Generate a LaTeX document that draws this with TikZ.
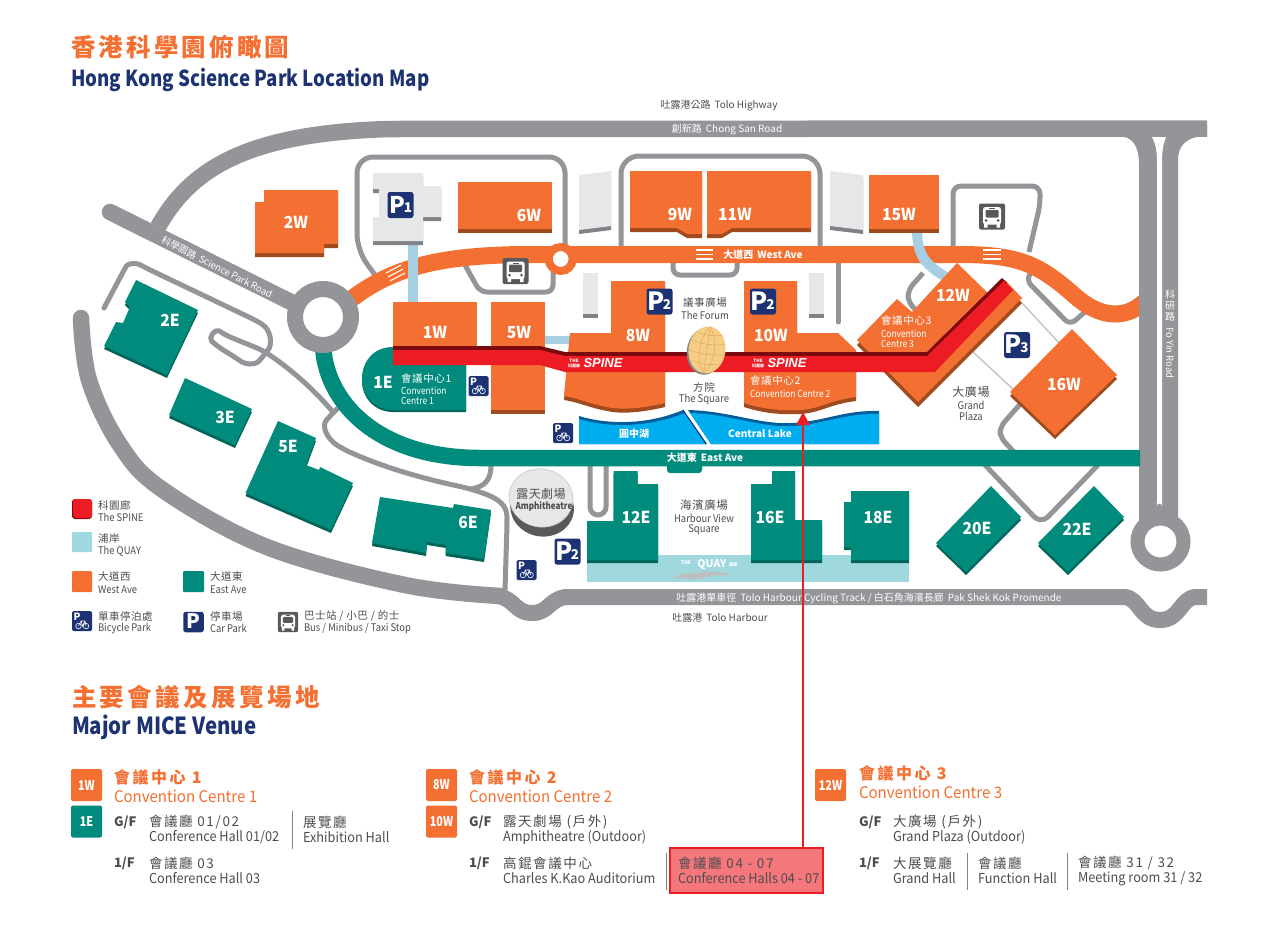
\documentclass[tikz,border=0pt]{standalone}
\usepackage{fontspec}
\setmainfont{Noto Sans CJK TC}
\newfontfamily\spf{Liberation Sans}
\usetikzlibrary{arrows.meta}
\definecolor{rd}{HTML}{949599}
\definecolor{org}{HTML}{F37032}
\definecolor{odk}{HTML}{A04A1E}
\definecolor{tl}{HTML}{008B7C}
\definecolor{tdk}{HTML}{006459}
\definecolor{navy}{HTML}{1D3272}
\definecolor{spn}{HTML}{ED1C24}
\definecolor{spd}{HTML}{7A0A0E}
\definecolor{lk}{HTML}{00AEEF}
\definecolor{lkd}{HTML}{005E9C}
\definecolor{qy}{HTML}{9FD9DD}
\definecolor{lnk}{HTML}{A6CFE3}
\definecolor{gb}{HTML}{E6E7E8}
\definecolor{gbd}{HTML}{808285}
\definecolor{ink}{HTML}{4D4D4F}
\definecolor{bus}{HTML}{58595B}
\definecolor{sq}{HTML}{F6CD85}
\definecolor{sqd}{HTML}{D9A55A}
\newcommand\fz[1]{\fontsize{#1}{#1}\selectfont}
\newcommand\st[1]{\addfontfeature{FakeStretch=#1}}
\newcommand\lab[4][]{\node[txt,#1] (#2) at (#3) {#4};}
\newcommand\blg[3]{\fill[#2,yshift=-#3pt] #1; \fill[org] #1;}
\newcommand\bw[1]{\fill[odk,yshift=-4pt] #1; \fill[org] #1;}
\newcommand\be[1]{\fill[tdk,yshift=-3pt] #1; \fill[tl] #1;}
\newcommand\bg[1]{\fill[gbd,yshift=-4pt] #1; \fill[gb] #1;}
\newcommand\picon[6]{\begin{scope}[shift={(#2)}]
 \fill[navy,rounded corners=2.5pt] (-#3/2,-#3/2) rectangle (#3/2,#3/2);
 \node[txt,text=white,font=\bfseries\fz{#4}] (#1) at (#6,-0.5) {P};
 \node[txt,text=white,font=\bfseries\fz{13.5}] (#1s) at (7.5,3) {#5};
\end{scope}}
\newcommand\bike[2]{\begin{scope}[shift={(#2)}]
 \fill[navy,rounded corners=1.5pt] (-10,-10) rectangle (10,10);
 \node[txt,text=white,font=\bfseries\fz{10}] (#1) at (-5,-4.5) {P};
 \draw[white,line width=.6pt] (-3.5,5) circle (2.8) (4,5) circle (2.8) (-3.5,5) -- (-1,0) -- (3,0) -- (4,5) (-1,0) -- (0.5,5) -- (3,0);
\end{scope}}
\newcommand\busi[2]{\begin{scope}[shift={(#1)},scale=#2]
 \fill[bus,rounded corners=2pt] (-13,-13) rectangle (13,13);
 \fill[white,rounded corners=2.5pt] (-9,-9.5) rectangle (9,8);
 \fill[white] (-8,7) rectangle (-4.5,11) (4.5,7) rectangle (8,11);
 \fill[bus,rounded corners=1pt] (-6.5,-6.5) rectangle (6.5,1);
 \fill[bus] (-6,4) circle (1.5) (6,4) circle (1.5);
 \fill[bus] (-3,-8.5) rectangle (3,-7.5);
\end{scope}}
\tikzset{
 txt/.style={inner sep=0pt,outer sep=0pt,text=ink},
 bld/.style={txt,text=white,font=\bfseries\fz{16.5}\st{.95}},
 wt/.style={txt,text=white},
 rdm/.style={draw=rd,line width=16.5pt,line join=round},
 rdt/.style={draw=rd,line width=5pt,rounded corners=7pt,line join=round},
 lw/.style={txt,anchor=west},
 flr/.style={txt,anchor=west,font=\bfseries\fz{13}},
 zh/.style={txt,anchor=west,font=\fz{13.5}\addfontfeature{LetterSpace=12}},
 en/.style={txt,anchor=west,font=\fz{13.7}\st{.93}},
 hz/.style={txt,anchor=west,text=org,font=\bfseries\fz{16}\addfontfeature{LetterSpace=16}},
 he/.style={txt,anchor=west,text=org,font=\fz{16}\st{.94}},
 badge/.style={inner sep=0pt,rounded corners=2pt,text=white,minimum width=31pt,minimum height=32pt,font=\bfseries\fz{13.5}\st{.8}},
 lgz/.style={txt,anchor=west,font=\fz{10.5}\addfontfeature{LetterSpace=5}},
 lge/.style={txt,anchor=west,font=\fz{10.5}\st{.9}},
 sm/.style={txt,font=\fz{10.5}\addfontfeature{LetterSpace=5}},
 sme/.style={txt,font=\fz{10.5}\st{.9}},
 mapz/.style={lw,text=white,font=\fz{10.5}\addfontfeature{LetterSpace=6}},
 mape/.style={lw,text=white,font=\fz{9.7}\st{.87}},
 dv/.style={draw=ink!70,line width=.7pt},
 stripe/.style={draw=white,line width=1.1pt},
}
\begin{document}
\begin{tikzpicture}[x=1pt,y=-1pt]
\useasboundingbox (0,0) rectangle (1280,930);
\fill[white] (0,0) rectangle (1280,930);

% thin roads
\draw[rdt,rounded corners=16pt] (375,275) -- (357,250) -- (357,157) -- (565,157) -- (565,245);
\draw[rdt,rounded corners=18pt] (621,246) -- (621,156) -- (820,156) -- (820,246);
\draw[rdt,line cap=round] (838,263) -- (838,322);
\draw[rdt] (673,262) -- (673,275) -- (737,275) -- (737,262);
\draw[rdt] (465,265) -- (480,292) -- (553,292) -- (553,262);
\draw[rdt,line cap=round] (104,308) -- (123,272) .. controls (128,263) and (137,263) .. (146,268) -- (255,320) .. controls (272,330) and (272,345) .. (264,355) .. controls (255,366) and (245,364) .. (236,358) -- (217,346) .. controls (208,338) and (215,328) .. (225,335) -- (262,350) .. controls (285,365) and (310,385) .. (333,412);
\draw[rdt] (338,408) -- (331,415) .. controls (322,425) and (325,438) .. (345,450) .. controls (390,470) and (430,480) .. (467,488) .. controls (500,498) and (507,505) .. (507,525) -- (505,590);
\draw[rdt] (491,465) .. controls (491,480) and (485,487) .. (470,489);
\draw[rdt,rounded corners=8pt] (590,464) -- (590,515) -- (606,515) -- (606,464);
\draw[rdt,rounded corners=10pt] (985,465) -- (1041,524) -- (1098,465);
\draw[rdt] (1022,402) -- (1000,427) -- (1000,437) -- (1014,452);
\draw[rdt] (923,273) -- (908,290) -- (908,302) -- (916,310);
\draw[rdt] (1032,271) -- (1026,280) -- (1070,325) -- (1086,311);
\draw[rdt,rounded corners=8pt] (953,248) -- (953,186) -- (1040,186) -- (1040,205) -- (1029,252);
\draw[gb!85!black,line width=1.4pt] (1022,303) -- (1060,344) (973,352) -- (1014,390);

% main roads
\draw[rdm] (158,227) .. controls (190,170) and (245,133) .. (390,129) -- (1207,128.5);
\draw[rdm,line cap=round] (110,212) -- (323,318);
\draw[rdm,line cap=round] plot[smooth,tension=.6] coordinates {(81,318) (89,380) (120,445) (163,490) (267,547) (405,585) (501,596)};
\draw[rdm,line width=16pt] (498,596) .. controls (515,599) and (515,613) .. (532,613) .. controls (549,613) and (549,599) .. (566,597) -- (1125,597) .. controls (1140,599) and (1140,620) .. (1160,620) .. controls (1180,620) and (1180,599) .. (1195,597) -- (1207,597);
\fill[rd] (1117,136) .. controls (1133,136) and (1139,146) .. (1139,165) -- (1139,530) -- (1178,530) -- (1178,160) .. controls (1178,146) and (1186,136) .. (1207,136) -- (1207,125) -- (1117,125) -- cycle;
\fill[white] (1152,137) .. controls (1156,145) and (1157,150) .. (1157,165) -- (1157,506) arc (180:0:2.5 and -2.5) -- (1162,165) .. controls (1162,150) and (1163,145) .. (1166,137) -- cycle;
\draw[rd,fill=white,line width=14pt] (1160.5,541.5) circle (23);

% avenues
\begin{scope}
\clip (300,200) rectangle (1139,340);
\draw[org,line width=17pt] (340,308) .. controls (385,270) and (430,256) .. (520,254.5) -- (960,254.5) .. controls (1020,254.5) and (1040,265) .. (1075,296) .. controls (1100,318) and (1128,322) .. (1150,296);
\end{scope}
\draw[tl,line width=16.5pt] (323,345) .. controls (325,400) and (375,458) .. (480,458) -- (1140,458);
\fill[tl,rounded corners=3pt] (667,460) rectangle (702,473);
\draw[rd,fill=white,line width=16pt] (323,317) circle (28);
\draw[org,fill=white,line width=8pt] (560.7,259) circle (12);
\draw[stripe] (696,250) -- (713,250) (696,254.5) -- (713,254.5) (696,259) -- (713,259);
\draw[stripe] (983,250) -- (1001,250) (983,254.5) -- (1001,254.5) (983,259) -- (1001,259);
\draw[stripe] (386,273) -- (401,265) (388,277) -- (403,269) (390,281) -- (405,273);

% links
\draw[lnk,line width=10pt] (413,245) -- (413,303);
\fill[lnk] (545,336) rectangle (572,344);
\draw[lnk,line width=10pt] (917,229) .. controls (917,255) and (925,265) .. (946,277);

% lake
\fill[lkd] (579,416) .. controls (605,424) and (645,426) .. (683,410) -- (707,444) -- (579,444) -- cycle;
\fill[lk] (579,419) .. controls (605,427) and (645,429) .. (685,413) -- (707,444) -- (579,444) -- cycle;
\fill[lkd] (688,410) .. controls (730,411) and (760,425) .. (793,423) .. controls (825,421) and (845,410) .. (879,411) -- (879,444) -- (711,444) -- cycle;
\fill[lk] (690,413) .. controls (730,414) and (760,428) .. (793,426) .. controls (825,424) and (845,413) .. (879,414) -- (879,444) -- (711,444) -- cycle;
\draw[navy,line width=1pt] (683,410) -- (706,444);

% quay
\fill[qy] (587,555) rectangle (909,582);

% grey buildings
\bg{(373,173) -- (423,173) -- (423,186) -- (441,186) -- (441,217) -- (423,217) -- (423,241) -- (373,241) -- (373,217) -- (379,217) -- (379,189) -- (373,189) -- cycle}
\bg{(579,175) -- (611,171) -- (611,226) -- (579,230) -- cycle}
\bg{(830,171) -- (863,175) -- (863,230) -- (830,226) -- cycle}
\bg{(583,273) -- (598,273) -- (598,314) -- (583,314) -- cycle}
\bg{(809,273) -- (824,273) -- (824,314) -- (809,314) -- cycle}

% west buildings
\bw{(264,190) -- (338,190) -- (338,244) -- (324,244) -- (324,253) -- (255,253) -- (255,202) -- (264,202) -- cycle}
\bw{(458,182) -- (552,182) -- (552,229) -- (458,229) -- cycle}
\bw{(630,171) -- (702,171) -- (702,234) -- (687,234) -- (677,228) -- (630,228) -- cycle}
\bw{(707,171) -- (811,171) -- (811,228) -- (732,228) -- (722,234) -- (707,234) -- cycle}
\bw{(869,175) -- (939,175) -- (939,229) -- (869,229) -- cycle}
\fill[org] (393,302) -- (477,302) -- (477,347) -- (393,347) -- cycle;
\bw{(491,302) -- (545,302) -- (545,410) -- (491,410) -- cycle}
\bw{(611,281) -- (665,281) -- (665,403) .. controls (640,409) and (620,410) .. (607,407) .. controls (590,404) and (578,398) .. (564,396) -- (570,333) -- (611,333) -- cycle}
\bw{(744,281) -- (797,281) -- (797,333) -- (838,333) -- (856,350) -- (856,397) .. controls (830,400) and (820,409) .. (800,410) .. controls (775,411) and (760,408) .. (744,403) -- cycle}
\blg{(957,263) -- (990,295) -- (1005,280) -- (1022,298) -- (918,402) -- (857,340) -- (897,299) -- (912,312) -- cycle}{odk}{5}
\bw{(1072,329) -- (1117,375) -- (1055,435) -- (1010,392) -- cycle}

% east buildings
\fill[tdk,yshift=-2pt] (393,347) .. controls (373,347) and (362,362) .. (362,379) .. controls (362,396) and (375,410) .. (393,410) -- (466,410) -- (466,360) -- cycle;
\fill[tl] (393,347) .. controls (373,347) and (362,362) .. (362,379) .. controls (362,396) and (375,410) .. (393,410) -- (466,410) -- (466,360) -- cycle;
\be{(136,280) -- (198,310) -- (167,375) -- (104,346) -- (116,322) -- (123,323) -- (130,307) -- (125,302) -- cycle}
\be{(185,378) -- (252,409) -- (235,445) -- (169,415) -- cycle}
\be{(278,421) -- (316,438) -- (306,465) -- (319,470) -- (320,467) -- (353,483) -- (331,530) -- (245.5,493) -- cycle}
\be{(380,497) -- (453,508) -- (454,504) -- (491,510) -- (484,559) -- (445.5,553) -- (446,545) -- (427,542) -- (426,553) -- (372,543) -- cycle}
\be{(613.5,471) -- (637.5,471) -- (637.5,484) -- (658,484) -- (658,560) -- (587,560) -- (587,521) -- (613.5,521) -- cycle}
\be{(772,471) -- (795,471) -- (795,520) -- (822,520) -- (822,560) -- (751,560) -- (751,484) -- (772,484) -- cycle}
\be{(851,491) -- (909,491) -- (909,560) -- (851,560) -- (851,547) -- (844,547) -- (844,502) -- (851,502) -- cycle}
\be{(991,486) -- (1021,517) -- (966,572) -- (936,543) -- cycle}
\be{(1094,486) -- (1124,517) -- (1068,572) -- (1038,543) -- cycle}

% spine
\fill[spd] (393,346) -- (540,346) -- (565,352) -- (927,352) -- (1002,278) -- (1007,283) -- (930,360) -- (393,360) -- cycle;
\fill[spn] (393,350) -- (540,350) -- (565,356) -- (927,356) -- (1004,281) -- (1013,290) -- (935,372) -- (565,372) -- (540,365) -- (393,365) -- cycle;

% the square
\begin{scope}[rotate around={-8:(707,350)}]
\fill[gbd,xshift=-1.5pt,yshift=-1.5pt] (707,350) ellipse (18.5 and 23.5);
\fill[sq] (707,350) ellipse (18.5 and 23.5);
\draw[sqd,line width=.4pt] (707,326.5) .. controls (697,340) and (697,360) .. (707,373.5) (707,326.5) .. controls (717,340) and (717,360) .. (707,373.5) (707,326.5) -- (707,373.5) (690,342) .. controls (700,345) and (714,345) .. (724,342) (689,352) .. controls (700,355) and (714,355) .. (725,352) (692,362) .. controls (700,365) and (714,365) .. (722,362) (694,333) .. controls (700,336) and (714,336) .. (720,333);
\end{scope}

% amphitheatre
\begin{scope}[rotate around={-12:(541,498)}]
\fill[bus] (544,507) ellipse (32 and 29);
\fill[gb,draw=gb!85!black,line width=.6pt] (541,498) ellipse (32 and 29);
\end{scope}

% big labels
\lab[bld]{t2w}{296,222}{2W}
\lab[bld]{t6w}{529,215}{6W}
\lab[bld]{t9w}{680,214}{9W}
\lab[bld]{t11w}{735,214}{11W}
\lab[bld]{t15w}{899,214}{15W}
\lab[bld]{t1w}{435,332}{1W}
\lab[bld]{t5w}{519,332}{5W}
\lab[bld]{t8w}{638,335}{8W}
\lab[bld]{t10w}{771,335}{10W}
\lab[bld]{t12w}{953,295}{12W}
\lab[bld]{t16w}{1064,384}{16W}
\lab[bld]{t1e}{383,382}{1E}
\lab[bld]{t2e}{170,320}{2E}
\lab[bld]{t3e}{225,417}{3E}
\lab[bld]{t5e}{288,446}{5E}
\lab[bld]{t6e}{468,522}{6E}
\lab[bld]{t12e}{636,517}{12E}
\lab[bld]{t16e}{770,517}{16E}
\lab[bld]{t18e}{878,517}{18E}
\lab[bld]{t20e}{977,528}{20E}
\lab[bld]{t22e}{1077,529}{22E}

% small labels on buildings
\lab[mapz]{c1z}{401,379}{會議中心1}
\lab[mape]{c1a}{401,390.5}{Convention}
\lab[mape]{c1b}{401,400.5}{Centre 1}
\lab[mapz]{c2z}{750,381}{會議中心2}
\lab[mape]{c2a}{750,394}{Convention Centre 2}
\lab[mapz]{c3z}{881,321}{會議中心3}
\lab[mape]{c3a}{881,333.5}{Convention}
\lab[mape]{c3b}{881,344}{Centre 3}

% place labels
\lab[sm]{forz}{705,303}{議事廣場}
\lab[sme]{fore}{705,315.5}{The Forum}
\lab[sm]{sqz}{704,387}{方院}
\lab[sme]{sqe}{704,399.5}{The Square}
\lab[sm,font=\fz{12}\addfontfeature{LetterSpace=5}]{gpz}{971,392}{大廣場}
\lab[sme]{gpa}{971,405}{Grand}
\lab[sme]{gpb}{971,416.5}{Plaza}
\lab[sm,font=\fz{11.5}\addfontfeature{LetterSpace=5}]{hvz}{704,505}{海濱廣場}
\lab[sme]{hva}{704,518}{Harbour View}
\lab[sme]{hvb}{704,530}{Square}
\lab[sm,font=\fz{10}]{hw}{719,105.5}{吐露港公路\hspace{4pt}Tolo Highway}
\lab[sm,font=\fz{10}]{th}{720,617.5}{吐露港\hspace{4pt}Tolo Harbour}
\lab[wt,font=\fz{10}]{cs}{727,129.5}{創新路\hspace{4pt}Chong San Road}
\lab[wt,font=\bfseries\fz{10}]{wa}{763,255}{大道西\hspace{4pt}West Ave}
\lab[wt,font=\bfseries\fz{10}]{ea}{705,458}{大道東\hspace{4pt}East Ave}
\lab[wt,font=\bfseries\fz{10}]{lkz}{634,434}{圓中湖}
\lab[wt,font=\bfseries\fz{10}]{lke}{760,434}{Central Lake}
\lab[wt,font=\fz{9.5},rotate=-27]{sp}{217,267}{科學園路\hspace{4pt}Science Park Road}
\lab[wt,font=\fz{10}]{cy}{869,598.5}{吐露港單車徑\hspace{4pt}Tolo Harbour Cycling Track / 白石角海濱長廊\hspace{4pt}Pak Shek Kok Promende}
\lab[wt,font=\fz{10},align=center]{fz}{1170,306}{科\\[1pt]研\\[1pt]路}
\lab[wt,font=\fz{9.5},rotate=-90]{fe}{1170,353}{Fo Yin Road}
\lab[sm,font=\fz{12}\addfontfeature{LetterSpace=4}]{amz}{541,494}{露天劇場}
\lab[sme,font=\bfseries\fz{9.5}\st{.85}]{ame}{544,507}{Amphitheatre}

% spine logos
\lab[wt,font=\bfseries\fz{4.5}]{s1a}{574,360.5}{THE}
\lab[wt,font=\bfseries\fz{4}]{s1b}{574,366}{科園廊}
\lab[wt,font={\spf\bfseries\itshape\fz{13}}]{s1c}{603,363.5}{SPINE}
\lab[wt,font=\bfseries\fz{4.5}]{s2a}{758,360.5}{THE}
\lab[wt,font=\bfseries\fz{4}]{s2b}{758,366}{科園廊}
\lab[wt,font={\spf\bfseries\itshape\fz{13}}]{s2c}{787,363.5}{SPINE}

% quay logo
\lab[wt,font=\bfseries\fz{5}]{qa}{686,563}{THE}
\lab[wt,font=\bfseries\fz{10.5}]{qb}{712,565}{QUAY}
\lab[wt,font=\bfseries\fz{4.5}]{qc}{733,565}{浦岸}
\fill[gb!60!gbd] (672,578) .. controls (685,571) and (695,574) .. (705,572) .. controls (715,571) and (725,572) .. (731,575) .. controls (722,575) and (712,575) .. (703,578) .. controls (692,581) and (682,577) .. (672,578) -- cycle;

% icons
\picon{p1}{400.5,205}{26}{23}{1}{-3.5}
\picon{p2a}{659.5,301.5}{26}{25}{2}{-3.5}
\picon{p2b}{763,301.5}{26}{25}{2}{-3.5}
\picon{p3}{1017,345}{26}{25}{3}{-3.5}
\picon{p2c}{567.5,551.5}{26}{25}{2}{-3.5}
\picon{pl}{193.5,622}{20.5}{20}{}{0}
\bike{b1}{478.5,386}
\bike{b2}{563,433}
\bike{b3}{526.5,570}
\bike{bl}{82,621}
\busi{515.5,271}{1}
\busi{992,216.5}{1}
\busi{288,622}{0.78}

% legend
\fill[spd,rounded corners=3pt] (72,499) rectangle (92,519);
\fill[spn,rounded corners=3pt] (73,499) rectangle (92,518);
\fill[qy,rounded corners=1pt] (72,532) rectangle (92,552);
\fill[org,rounded corners=1pt] (72,571) rectangle (92,592);
\fill[tl,rounded corners=1pt] (183,571) rectangle (204,592);
\lab[lgz]{la1}{98,505}{科園廊}
\lab[lge]{la2}{98,517.5}{The SPINE}
\lab[lgz]{lb1}{98,538.5}{浦岸}
\lab[lge]{lb2}{98,551}{The QUAY}
\lab[lgz]{lc1}{98,577}{大道西}
\lab[lge]{lc2}{98,589.5}{West Ave}
\lab[lgz]{ld1}{210,577}{大道東}
\lab[lge]{ld2}{210,589.5}{East Ave}
\lab[lgz]{le1}{98,616}{單車停泊處}
\lab[lge]{le2}{98,628.5}{Bicycle Park}
\lab[lgz]{lf1}{210,616}{停車場}
\lab[lge]{lf2}{210,628.5}{Car Park}
\lab[lgz]{lg1}{304,616}{巴士站 / 小巴 / 的士}
\lab[lge]{lg2}{304,628.5}{Bus / Minibus / Taxi Stop}

% titles
\lab[lw,text=org,font=\bfseries\fz{24.5}\addfontfeature{LetterSpace=13}]{tt1}{71,47}{香港科學園俯瞰圖}
\lab[lw,text=navy,font=\bfseries\fz{22}\st{.85}]{tt2}{71,79.5}{Hong Kong Science Park Location Map}
\lab[lw,text=org,font=\bfseries\fz{24.5}\addfontfeature{LetterSpace=14}]{tt3}{72,697}{主要會議及展覽場地}
\lab[lw,text=navy,font=\bfseries\fz{23.5}\st{.87}]{tt4}{72,727.5}{Major MICE Venue}

% badges
\node[badge,fill=org] (b1w) at (86.5,785) {1W};
\node[badge,fill=tl] (b1e) at (86.5,821.5) {1E};
\node[badge,fill=org] (b8w) at (441.5,785) {8W};
\node[badge,fill=org] (b10w) at (441.5,821.5) {10W};
\node[badge,fill=org] (b12w) at (830.5,785) {12W};

% column 1
\lab[hz]{h1a}{114,777}{會議中心 1}
\lab[he]{h1b}{114,796}{Convention Centre 1}
\lab[flr]{f1a}{114,822}{G/F}
\lab[zh]{z1a}{149,822}{會議廳 01/02}
\lab[en]{e1a}{149,837}{Conference Hall 01/02}
\lab[zh]{z1b}{303,822}{展覽廳}
\lab[en]{e1b}{303,837}{Exhibition Hall}
\draw[dv] (292,811) -- (292,849);
\lab[flr]{f1b}{114,863}{1/F}
\lab[zh]{z1c}{149,863}{會議廳 03}
\lab[en]{e1c}{149,878.5}{Conference Hall 03}

% column 2
\lab[hz]{h2a}{469,777}{會議中心 2}
\lab[he]{h2b}{469,796}{Convention Centre 2}
\lab[flr]{f2a}{469,822}{G/F}
\lab[zh]{z2a}{503,822}{露天劇場 (戶外)}
\lab[en]{e2a}{503,837}{Amphitheatre (Outdoor)}
\lab[flr]{f2b}{469,863}{1/F}
\lab[zh]{z2b}{503,863}{高錕會議中心}
\lab[en]{e2b}{503,878.5}{Charles K.Kao Auditorium}
\draw[dv] (666,853) -- (666,890);
\node[draw=spn,fill=spn!60!white,line width=2pt,minimum width=153pt,minimum height=45pt,inner sep=0pt] (redbox) at (746,870) {};
\lab[zh]{z2c}{678,863}{會議廳 04 - 07}
\lab[en]{e2c}{678,878.5}{Conference Halls 04 - 07}

% column 3
\lab[hz]{h3a}{859,773}{會議中心 3}
\lab[he]{h3b}{859,792}{Convention Centre 3}
\lab[flr]{f3a}{859,822}{G/F}
\lab[zh]{z3a}{893,822}{大廣場 (戶外)}
\lab[en]{e3a}{893,837}{Grand Plaza (Outdoor)}
\lab[flr]{f3b}{859,863}{1/F}
\lab[zh]{z3b}{893,863}{大展覽廳}
\lab[en]{e3b}{893,878.5}{Grand Hall}
\draw[dv] (967,853) -- (967,890);
\lab[zh]{z3c}{978,863}{會議廳}
\lab[en]{e3c}{978,878.5}{Function Hall}
\draw[dv] (1067,853) -- (1067,890);
\lab[zh]{z3d}{1078,863}{會議廳 31 / 32}
\lab[en]{e3d}{1078,878.5}{Meeting room 31 / 32}

% arrow
\coordinate (tip) at (803,412);
\draw[spn,line width=2.3pt,-{Triangle[length=13pt,width=13pt]}] (redbox.north -| tip) -- (tip);
\end{tikzpicture}
\end{document}
